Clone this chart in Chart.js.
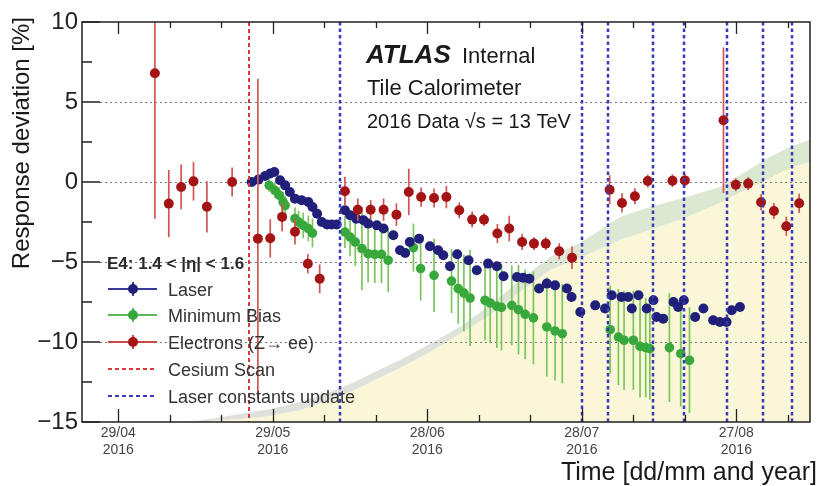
<!DOCTYPE html>
<html>
<head>
<meta charset="utf-8">
<title>Tile Calorimeter response deviation</title>
<script src="https://cdn.jsdelivr.net/npm/chart.js@4.4.0/dist/chart.umd.min.js"></script>
<style>
    html, body { margin: 0; padding: 0; background: #fff; }
    #wrap { width: 819px; height: 486px; position: relative; }
</style>
</head>
<body>
<div id="wrap"><canvas id="respChart" width="819" height="486"></canvas></div>
<script>
// Ticks (x in days since 29/04/2016)
const xTickDays = [0, 30, 60, 90, 120];
const xTickLabels = [['29/04', '2016'], ['29/05', '2016'], ['28/06', '2016'], ['28/07', '2016'], ['27/08', '2016']];
const xMinorDays = [10, 20, 40, 50, 70, 80, 100, 110, 130];
const yTickVals = [10, 5, 0, -5, -10, -15];
const yMinorVals = [7.5, 2.5, -2.5, -7.5, -12.5];
const yGridVals = [5, 0, -5, -10];

// Cesium scan / laser constants updates (days)
const cesiumDays = [25.4];
const laserUpdateDays = [43.0, 90.0, 95.0, 103.9, 109.8, 118.1, 125.1, 130.8];

// Laser
const laserDay = [25.9, 27.2, 28.5, 29.5, 30.3, 31.4, 32.4, 33.3, 34.3, 35.6, 36.9, 37.7, 38.6, 39.5, 40.5, 41.4, 42.4,
    44.0, 45.0, 46.2, 47.6, 48.5, 50.2, 51.5, 53.4, 54.7, 55.7, 56.6, 58.4, 60.5, 62.1, 63.1, 64.4, 65.8, 68.0, 69.6,
    71.8, 73.5, 74.8, 77.4, 78.6, 79.8, 81.7, 83.2, 84.8, 87.1, 88.0, 89.7, 92.6, 94.5, 95.8, 97.7, 99.0, 99.7, 101.0,
    102.6, 103.9, 104.5, 105.8, 107.8, 108.7, 109.8, 112.0, 113.6, 115.5, 116.8, 118.1, 119.1, 120.7];
const laserVal = [0.0, 0.15, 0.38, 0.53, 0.63, 0.11, -0.21, -0.63, -1.04, -1.14, -1.25, -1.56, -1.98, -2.5, -2.66, -2.66, -2.66,
    -1.77, -2.08, -2.29, -2.39, -2.6, -2.71, -2.91, -3.33, -4.27, -4.44, -3.75, -3.54, -4.02, -4.27, -4.58, -5.27, -4.52, -4.89, -5.52,
    -5.1, -5.27, -5.89, -5.94, -5.98, -6.04, -6.66, -6.35, -6.46, -6.66, -7.19, -8.13, -7.71, -7.91, -7.08, -7.19, -7.19, -7.91, -7.08,
    -7.91, -7.39, -8.44, -8.54, -7.5, -7.81, -7.39, -8.44, -7.91, -8.64, -8.75, -8.75, -8.02, -7.81];

// Minimum Bias
const mbDay = [29.3, 30.4, 31.3, 32.0, 32.4, 34.3, 35.0, 35.9, 36.9, 37.7, 44.0, 45.0, 46.0, 47.3, 48.5, 49.8, 51.1, 52.4,
    57.3, 58.7, 61.3, 64.7, 66.0, 67.1, 68.3, 71.2, 72.2, 73.5, 74.4, 76.4, 77.7, 79.0, 80.6, 83.2, 84.8, 86.2,
    95.5, 97.1, 98.2, 100.0, 101.3, 102.4, 103.2, 107.0, 109.2, 110.9];
const mbVal = [-0.21, -0.52, -0.83, -1.25, -1.46, -2.29, -2.5, -2.71, -2.91, -3.19, -3.13, -3.44, -3.75, -4.16, -4.48, -4.52, -4.52, -4.89,
    -4.1, -5.41, -5.83, -6.19, -6.66, -6.94, -7.25, -7.39, -7.56, -7.77, -7.83, -7.71, -7.98, -8.27, -8.49, -9.06, -9.31, -9.48,
    -9.23, -9.69, -9.89, -9.89, -10.27, -10.35, -10.41, -10.35, -10.73, -11.14];
const mbErr = [0.4, 0.5, 0.5, 0.6, 0.6, 0.7, 0.7, 0.8, 0.8, 0.9, 1.0, 1.2, 1.5, 2.6, 1.8, 1.8, 1.8, 2.0,
    1.5, 2.0, 2.3, 2.0, 2.2, 2.4, 3.0, 2.5, 2.5, 2.6, 2.7, 2.5, 2.8, 2.8, 2.9, 3.1, 3.1, 3.1,
    2.75, 3.0, 3.1, 3.1, 3.2, 3.1, 3.2, 3.4, 3.3, 3.3];

// Electrons (Z -> ee)
const elDay = [7.1, 9.8, 12.2, 14.6, 17.2, 22.1, 27.1, 29.5, 31.8, 34.3, 36.8, 39.1, 44.0, 46.5, 49.0, 51.5, 54.0, 56.4,
    58.8, 61.3, 63.7, 66.2, 68.7, 71.0, 73.6, 75.9, 78.4, 80.7, 83.0, 85.6, 88.1, 95.4, 97.8, 100.3, 102.8, 107.6, 110.0,
    117.5, 119.9, 122.3, 124.8, 127.3, 129.7, 132.2];
const elVal = [6.8, -1.35, -0.31, 0.04, -1.55, 0.0, -3.54, -3.52, -2.18, -3.11, -5.11, -6.05, -0.58, -1.73, -1.73, -1.73, -2.04, -0.62,
    -0.94, -1.0, -0.94, -1.77, -2.35, -2.35, -3.22, -2.91, -3.75, -3.85, -3.85, -4.33, -4.73, -0.48, -1.31, -0.89, 0.06, 0.08, 0.1,
    3.86, -0.17, -0.1, -1.27, -1.81, -2.77, -1.33];
const elErr = [9.1, 2.1, 1.4, 1.2, 1.6, 0.9, 10.0, 1.2, 0.9, 0.8, 0.6, 0.9, 0.9, 0.7, 0.6, 0.7, 0.7, 1.45,
    0.6, 0.6, 0.7, 0.5, 0.5, 0.4, 0.6, 0.8, 0.5, 0.4, 0.4, 0.5, 0.7, 0.9, 0.6, 0.5, 0.4, 0.4, 0.4,
    4.55, 0.4, 0.4, 0.5, 0.5, 0.6, 0.6];

// Integrated luminosity background (arbitrary units on hidden axis)
const lumiDay = [13.0, 17.8, 23.6, 29.5, 35.3, 41.1, 45.0, 49.8, 54.7, 60.5, 66.9, 72.2, 78.0, 83.8, 89.6, 97.4, 103.2, 110.4, 116.8, 121.7, 126.5, 130.4, 134.3];
const lumiRecorded = [0, 0.1, 0.3, 0.6, 1.2, 2.2, 3.0, 4.2, 5.4, 7.0, 9.0, 10.7, 13.0, 15.2, 16.4, 18.2, 19.2, 20.5, 21.9, 23.2, 24.4, 25.4, 26.0];
const lumiDelivered = [0, 0.3, 0.8, 1.3, 2.0, 3.0, 3.8, 5.0, 6.2, 7.8, 9.7, 11.7, 14.2, 16.5, 17.9, 20.5, 21.5, 22.5, 23.5, 25.0, 26.5, 27.5, 28.2];

function pts(xs, ys) { return xs.map(function(x, i) { return { x: x, y: ys[i] }; }); }

const FONT = '"Liberation Sans", Arial, Helvetica, sans-serif';

// error bars, grid, frame, ticks, labels and legend drawn the ROOT way
const atlasDecor = {
    id: 'atlasDecor',
    beforeDatasetDraw(chart, args) {
        const ds = chart.data.datasets[args.index];
        if (!ds.errors) return;
        const ctx = chart.ctx, a = chart.chartArea, ys = chart.scales.y;
        ctx.save();
        ctx.beginPath(); ctx.rect(a.left, a.top, a.right - a.left, a.bottom - a.top); ctx.clip();
        ctx.strokeStyle = ds.errorColor; ctx.lineWidth = 1.7;
        args.meta.data.forEach(function(p, i) {
            const v = ds.data[i].y, e = ds.errors[i];
            ctx.beginPath();
            ctx.moveTo(p.x, ys.getPixelForValue(v + e));
            ctx.lineTo(p.x, ys.getPixelForValue(v - e));
            ctx.stroke();
        });
        ctx.restore();
    },
    afterDatasetDraw(chart, args) {
        if (args.index !== 1) return;
        // dotted grid on top of the luminosity fill
        const ctx = chart.ctx, a = chart.chartArea, ys = chart.scales.y;
        ctx.save();
        ctx.strokeStyle = '#7a7a7a'; ctx.lineWidth = 1; ctx.setLineDash([2, 3]);
        yGridVals.forEach(function(v) {
            const y = Math.round(ys.getPixelForValue(v)) + 0.5;
            ctx.beginPath(); ctx.moveTo(a.left + 18, y); ctx.lineTo(a.right, y); ctx.stroke();
        });
        ctx.restore();
    },
    afterDatasetsDraw(chart) {
        const ctx = chart.ctx, a = chart.chartArea, xs = chart.scales.x, ys = chart.scales.y;
        ctx.save();
        // vertical dashed lines
        function vline(d, color, w, dash) {
            const x = Math.round(xs.getPixelForValue(d));
            ctx.strokeStyle = color; ctx.lineWidth = w; ctx.setLineDash(dash);
            ctx.beginPath(); ctx.moveTo(x, a.top); ctx.lineTo(x, a.bottom); ctx.stroke();
        }
        cesiumDays.forEach(function(d) { vline(d, '#d63a3a', 2, [4, 3]); });
        laserUpdateDays.forEach(function(d) { vline(d, '#3a3ab8', 2.5, [3.5, 3]); });
        ctx.setLineDash([]);
        // frame
        ctx.strokeStyle = '#222'; ctx.lineWidth = 1.5;
        ctx.strokeRect(a.left, a.top, a.right - a.left, a.bottom - a.top);
        // y ticks (inward)
        yTickVals.forEach(function(v) {
            const y = ys.getPixelForValue(v);
            ctx.beginPath(); ctx.moveTo(a.left, y); ctx.lineTo(a.left + 18, y); ctx.stroke();
        });
        yMinorVals.forEach(function(v) {
            const y = ys.getPixelForValue(v);
            ctx.beginPath(); ctx.moveTo(a.left, y); ctx.lineTo(a.left + 10, y); ctx.stroke();
        });
        // x ticks, bottom and top
        ctx.lineWidth = 1.3;
        function xtick(d, lb, lt) {
            const x = Math.round(xs.getPixelForValue(d)) + 0.5;
            ctx.beginPath(); ctx.moveTo(x, a.bottom); ctx.lineTo(x, a.bottom - lb); ctx.stroke();
            ctx.beginPath(); ctx.moveTo(x, a.top); ctx.lineTo(x, a.top + lt); ctx.stroke();
        }
        xTickDays.forEach(function(d) { xtick(d, 13, 12); });
        xMinorDays.forEach(function(d) { xtick(d, 7, 6); });
        ctx.restore();
    },
    afterDraw(chart) {
        const ctx = chart.ctx;
        ctx.save();
        ctx.fillStyle = '#1a1a1a';
        ctx.textBaseline = 'alphabetic';
        // axis titles
        ctx.font = '25px ' + FONT; ctx.textAlign = 'right';
        ctx.fillText('Time [dd/mm and year]', 817, 480);
        ctx.save();
        ctx.translate(29, 17); ctx.rotate(-Math.PI / 2);
        ctx.font = '24px ' + FONT;
        ctx.fillText('Response deviation [%]', 0, 0);
        ctx.restore();
        // ATLAS label
        ctx.textAlign = 'left';
        ctx.font = 'italic bold 26px ' + FONT;
        ctx.fillText('ATLAS', 366, 63);
        ctx.font = '22px ' + FONT;
        ctx.fillText('Internal', 462, 63);
        ctx.fillText('Tile Calorimeter', 367, 95);
        ctx.font = '20px ' + FONT;
        ctx.fillText('2016 Data \u221As = 13 TeV', 367, 128);
        // legend
        ctx.font = 'bold 17px ' + FONT;
        ctx.fillStyle = '#2a2a2a';
        ctx.fillText('E4: 1.4 < |\u03b7| < 1.6', 107, 269);
        const items = [
            { text: 'Laser', line: '#3a3a9a', dot: '#20207a', y: 289 },
            { text: 'Minimum Bias', line: '#5cb85c', dot: '#38a83c', y: 315 },
            { text: 'Electrons (Z\u2192 ee)', line: '#c84848', dot: '#a51414', y: 342 },
            { text: 'Cesium Scan', line: '#d63a3a', dash: true, y: 369 },
            { text: 'Laser constants update', line: '#3a3ab8', dash: true, y: 396 }
        ];
        ctx.font = '18px ' + FONT;
        items.forEach(function(it) {
            ctx.strokeStyle = it.line;
            ctx.lineWidth = 2;
            ctx.setLineDash(it.dash ? [4, 3] : []);
            ctx.beginPath(); ctx.moveTo(108, it.y); ctx.lineTo(157, it.y); ctx.stroke();
            ctx.setLineDash([]);
            if (it.dot) {
                ctx.beginPath(); ctx.moveTo(133, it.y - 7); ctx.lineTo(133, it.y + 7); ctx.stroke();
                ctx.fillStyle = it.dot;
                ctx.beginPath(); ctx.arc(133, it.y, 5, 0, Math.PI * 2); ctx.fill();
            }
            ctx.fillStyle = '#333';
            ctx.fillText(it.text, 168, it.y + 6.5);
        });
        ctx.restore();
    }
};

document.addEventListener('DOMContentLoaded', function() {
    try {
        const canvas = document.getElementById('respChart');
        new Chart(canvas.getContext('2d'), {
            type: 'scatter',
            data: {
                datasets: [
                    {
                        type: 'line', label: 'Recorded', data: pts(lumiDay, lumiRecorded), yAxisID: 'yLumi',
                        showLine: true, borderWidth: 0, pointRadius: 0, fill: 'origin',
                        backgroundColor: '#faf6d8', order: 20
                    },
                    {
                        type: 'line', label: 'Delivered', data: pts(lumiDay, lumiDelivered), yAxisID: 'yLumi',
                        showLine: true, borderWidth: 0, pointRadius: 0, fill: '-1', order: 19,
                        backgroundColor: function(c) {
                            const a = c.chart.chartArea;
                            if (!a) return '#e0e6d8';
                            const g = c.chart.ctx.createLinearGradient(a.left, 0, a.right, 0);
                            g.addColorStop(0, '#e0e0df');
                            g.addColorStop(0.45, '#dfe1db');
                            g.addColorStop(0.7, '#dde8d4');
                            g.addColorStop(1, '#dae8cf');
                            return g;
                        }
                    },
                    {
                        label: 'Minimum Bias', data: pts(mbDay, mbVal), errors: mbErr, errorColor: '#7cc55c',
                        backgroundColor: '#38a83c', borderColor: '#38a83c', pointRadius: 4.8, pointBorderWidth: 0, order: 3
                    },
                    {
                        label: 'Laser', data: pts(laserDay, laserVal),
                        backgroundColor: '#20207a', borderColor: '#20207a', pointRadius: 5, pointBorderWidth: 0, order: 2
                    },
                    {
                        label: 'Electrons (Z\u2192ee)', data: pts(elDay, elVal), errors: elErr, errorColor: '#d05555',
                        backgroundColor: '#a51414', borderColor: '#a51414', pointRadius: 5, pointBorderWidth: 0, order: 1
                    }
                ]
            },
            options: {
                responsive: false,
                animation: false,
                devicePixelRatio: 1,
                layout: { padding: { left: 0, right: 9, top: 22, bottom: 0 } },
                plugins: { legend: { display: false }, tooltip: { enabled: false } },
                scales: {
                    x: {
                        type: 'linear', position: 'bottom', min: -7.05, max: 134.3,
                        grid: { display: false, drawTicks: false }, border: { display: false },
                        afterBuildTicks: function(s) { s.ticks = xTickDays.map(function(v) { return { value: v }; }); },
                        afterFit: function(s) { s.height = 64; },
                        ticks: {
                            autoSkip: false, maxRotation: 0, padding: 3, color: '#444',
                            font: { family: FONT, size: 14, lineHeight: 1.2 },
                            callback: function(v) { const i = xTickDays.indexOf(v); return i >= 0 ? xTickLabels[i] : ''; }
                        }
                    },
                    y: {
                        min: -15, max: 10,
                        grid: { display: false, drawTicks: false }, border: { display: false },
                        afterBuildTicks: function(s) { s.ticks = yTickVals.map(function(v) { return { value: v }; }); },
                        afterFit: function(s) { s.width = 82; },
                        ticks: {
                            padding: 4, color: '#222', font: { family: FONT, size: 24 },
                            callback: function(v) { return v < 0 ? '\u2212' + Math.abs(v) : String(v); }
                        }
                    },
                    yLumi: { display: false, min: 0, max: 40 }
                }
            },
            plugins: [atlasDecor]
        });
    } catch (e) { console.error('chart init', e); }
});
</script>
</body>
</html>
